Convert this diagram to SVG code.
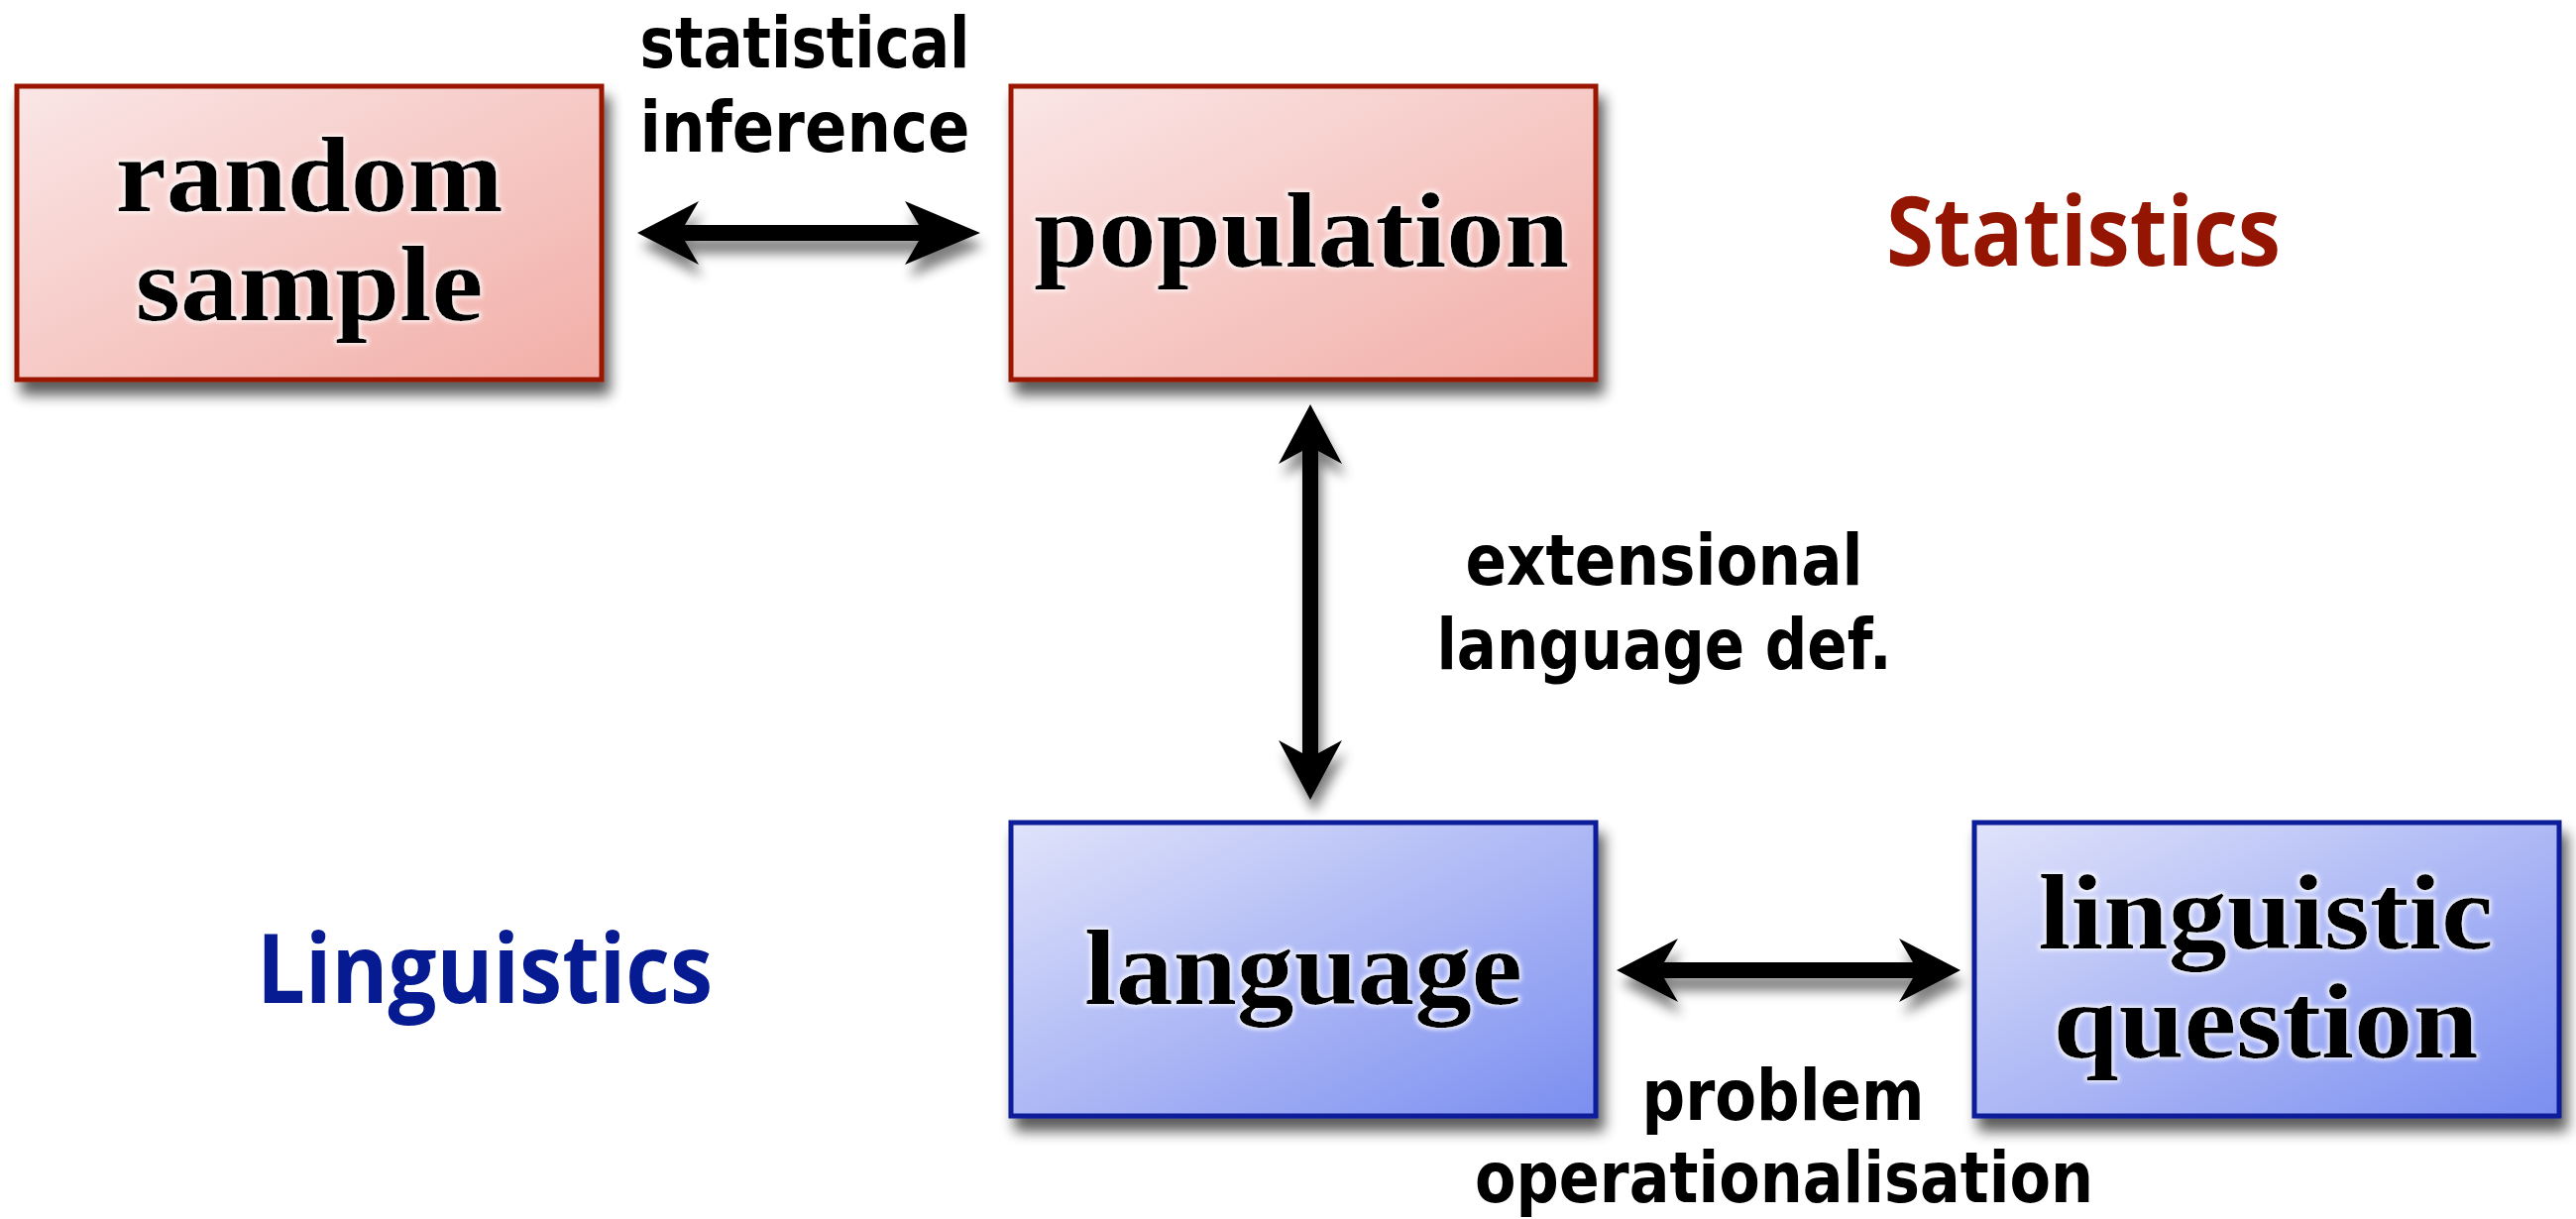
<svg xmlns="http://www.w3.org/2000/svg" width="2599" height="1230" viewBox="0 0 2599 1230">
  <style>
    .serif { font-family: "Liberation Serif", "Times New Roman", serif; font-weight: bold; font-size: 108px; fill: #000; text-anchor: middle; }
    .label { font-family: "DejaVu Sans Condensed", "DejaVu Sans", sans-serif; font-weight: bold; font-size: 71px; fill: #000; text-anchor: middle; }
    .domain { font-family: "Open Sans", "Noto Sans", sans-serif; font-weight: bold; font-size: 96px; text-anchor: middle; }
    .red { fill: url(#gradRed); stroke: #9a1503; stroke-width: 5; }
    .blue { fill: url(#gradBlue); stroke: #0b1a98; stroke-width: 5; }
    .arrow { fill: #000; filter: url(#shadowArrow); }
  </style>
  <defs>
    <linearGradient id="gradRed" x1="0" y1="0" x2="1" y2="1">
      <stop offset="0" stop-color="#fae6e6"/>
      <stop offset="1" stop-color="#f2aea7"/>
    </linearGradient>
    <linearGradient id="gradBlue" x1="0" y1="0" x2="1" y2="1">
      <stop offset="0" stop-color="#e0e3fa"/>
      <stop offset="1" stop-color="#7b8ef0"/>
    </linearGradient>
    <filter id="shadowBox" x="-10%" y="-10%" width="125%" height="130%">
      <feGaussianBlur in="SourceAlpha" stdDeviation="7"/>
      <feOffset dx="6" dy="13" result="b"/>
      <feComponentTransfer><feFuncA type="linear" slope="0.65"/></feComponentTransfer>
      <feMerge><feMergeNode/><feMergeNode in="SourceGraphic"/></feMerge>
    </filter>
    <filter id="shadowArrow" x="-20%" y="-20%" width="140%" height="160%">
      <feGaussianBlur in="SourceAlpha" stdDeviation="6"/>
      <feOffset dx="4" dy="13"/>
      <feComponentTransfer><feFuncA type="linear" slope="0.5"/></feComponentTransfer>
      <feMerge><feMergeNode/><feMergeNode in="SourceGraphic"/></feMerge>
    </filter>
    <filter id="halo" x="-5%" y="-10%" width="110%" height="120%">
      <feMorphology in="SourceAlpha" operator="dilate" radius="2" result="d"/>
      <feGaussianBlur in="d" stdDeviation="2" result="g"/>
      <feFlood flood-color="#ffffff" flood-opacity="0.85"/>
      <feComposite in2="g" operator="in"/>
      <feMerge><feMergeNode/><feMergeNode in="SourceGraphic"/></feMerge>
    </filter>
  </defs>

  <rect width="2599" height="1230" fill="#ffffff"/>

  <!-- connectors -->
  <g id="connectors">
    <!-- random sample <-> population -->
    <path class="arrow" d="M643,235 L705,203 L691,227 L927,227 L913,203 L989,235 L913,267 L927,243 L691,243 L705,267 Z"/>
    <!-- population <-> language -->
    <path class="arrow" d="M1322,408 L1354,468 L1330,455 L1330,760 L1354,747 L1322,807 L1290,747 L1314,760 L1314,455 L1290,468 Z"/>
    <!-- language <-> linguistic question -->
    <path class="arrow" d="M1631,979 L1693,947 L1679,971 L1930,971 L1916,947 L1978,979 L1916,1011 L1930,987 L1679,987 L1693,1011 Z"/>
  </g>

  <!-- connector labels -->
  <g id="label-inference">
    <text class="label" x="812" y="68" textLength="333" lengthAdjust="spacingAndGlyphs">statistical</text>
    <text class="label" x="812" y="153" textLength="333" lengthAdjust="spacingAndGlyphs">inference</text>
  </g>
  <g id="label-extensional">
    <text class="label" x="1679" y="590" textLength="401" lengthAdjust="spacingAndGlyphs">extensional</text>
    <text class="label" x="1679" y="675" textLength="459" lengthAdjust="spacingAndGlyphs">language def.</text>
  </g>
  <g id="label-operationalisation">
    <text class="label" x="1799" y="1130" textLength="285" lengthAdjust="spacingAndGlyphs">problem</text>
    <text class="label" x="1800" y="1213" textLength="624" lengthAdjust="spacingAndGlyphs">operationalisation</text>
  </g>

  <!-- nodes -->
  <g id="node-random-sample">
    <rect class="red" x="17" y="87" width="590" height="296" filter="url(#shadowBox)"/>
    <g filter="url(#halo)">
      <text class="serif" x="312" y="213" textLength="391" lengthAdjust="spacingAndGlyphs">random</text>
      <text class="serif" x="312" y="323" textLength="351" lengthAdjust="spacingAndGlyphs">sample</text>
    </g>
  </g>
  <g id="node-population">
    <rect class="red" x="1020" y="87" width="590" height="296" filter="url(#shadowBox)"/>
    <text class="serif" x="1313" y="269" textLength="540" lengthAdjust="spacingAndGlyphs" filter="url(#halo)">population</text>
  </g>
  <g id="node-language">
    <rect class="blue" x="1020" y="830" width="590" height="296" filter="url(#shadowBox)"/>
    <text class="serif" x="1315" y="1013" textLength="442" lengthAdjust="spacingAndGlyphs" filter="url(#halo)">language</text>
  </g>
  <g id="node-linguistic-question">
    <rect class="blue" x="1992" y="830" width="590" height="296" filter="url(#shadowBox)"/>
    <g filter="url(#halo)">
      <text class="serif" x="2286" y="957" textLength="459" lengthAdjust="spacingAndGlyphs">linguistic</text>
      <text class="serif" x="2286" y="1067" textLength="429" lengthAdjust="spacingAndGlyphs">question</text>
    </g>
  </g>

  <!-- domain headings -->
  <g id="heading-statistics">
    <text class="domain" x="2102" y="268" fill="#941502" textLength="398" lengthAdjust="spacingAndGlyphs">Statistics</text>
  </g>
  <g id="heading-linguistics">
    <text class="domain" x="489" y="1012" fill="#061a91" textLength="460" lengthAdjust="spacingAndGlyphs">Linguistics</text>
  </g>
</svg>
